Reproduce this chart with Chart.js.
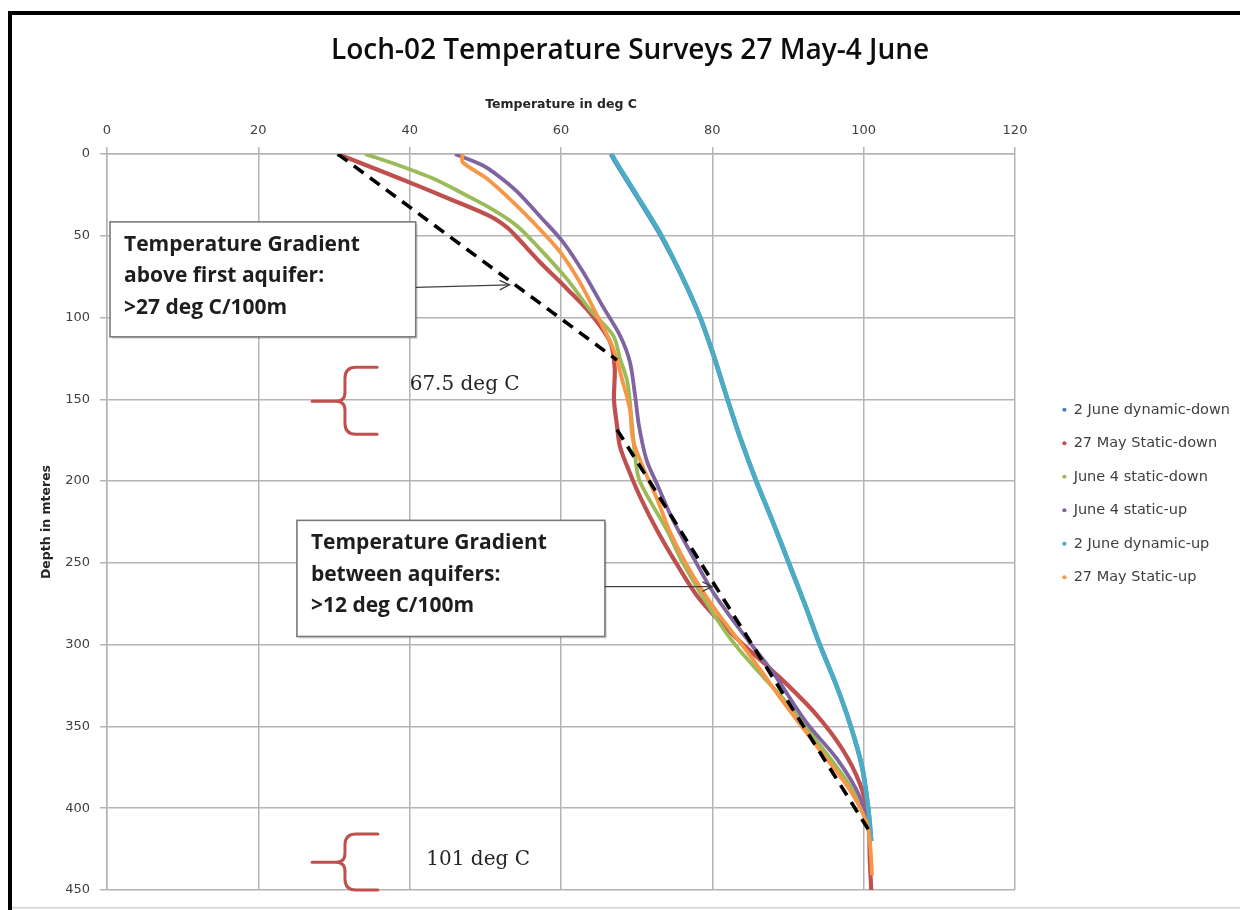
<!DOCTYPE html>
<html>
<head>
<meta charset="utf-8">
<script src="https://cdn.jsdelivr.net/npm/chart.js@4.4.1/dist/chart.umd.min.js"></script>
<style>
html,body{margin:0;padding:0;background:#fff;}
#wrap{position:relative;width:1240px;height:910px;}
</style>
</head>
<body>
<div id="wrap"><canvas id="c" width="1240" height="910"></canvas></div>
<script>
// ---------- text ----------
const chartTitle = 'Loch-02 Temperature Surveys 27 May-4 June';
const xAxisTitle = 'Temperature in deg C';
const yAxisTitle = 'Depth in mteres';
const seriesNames = ['2 June dynamic-down', '27 May Static-down', 'June 4 static-down', 'June 4 static-up', '2 June dynamic-up', '27 May Static-up'];

// ---------- axis ticks ----------
const xTicks = [0, 20, 40, 60, 80, 100, 120];
const yTicks = [0, 50, 100, 150, 200, 250, 300, 350, 400, 450];

// ---------- series (depth in m, temperature in deg C) ----------
const depthJun2DynDown = [0, 5, 25, 50, 75, 100, 125, 150, 175, 200, 225, 250, 275, 300, 325, 350, 375, 400, 420];
const tempJun2DynDown  = [66.6, 67.2, 69.9, 73.2, 76.0, 78.4, 80.3, 82.0, 83.8, 85.8, 88.0, 90.1, 92.2, 94.2, 96.4, 98.3, 99.8, 100.6, 101.0];

const depthMay27Down = [0, 15, 27.5, 38, 45, 52, 66, 82.5, 97, 115, 131, 150, 166, 179, 195, 211, 231, 250, 272, 297, 320, 342, 364, 385, 405, 430, 450];
const tempMay27Down  = [30.5, 38.7, 45.3, 50.6, 52.9, 54.4, 57.2, 60.8, 63.8, 66.5, 67.1, 67.0, 67.4, 67.8, 69.1, 70.6, 72.8, 75.2, 78.3, 83.4, 88.9, 93.6, 97.2, 99.5, 100.6, 100.8, 101.0];

const depthJun4Down = [0, 7, 15, 25.5, 34, 44, 58, 76.5, 95, 111, 125, 140, 166, 185, 200, 230, 250, 280, 300, 320, 338, 360, 385, 405];
const tempJun4Down  = [34.1, 38.6, 43.1, 47.6, 51.0, 54.2, 57.2, 60.8, 63.8, 66.9, 67.8, 68.8, 69.4, 69.8, 70.4, 74.0, 76.1, 80.0, 83.0, 86.8, 90.3, 94.0, 98.0, 100.3];

const depthJun4Up = [0, 7, 14, 23, 40, 54, 72, 93, 111, 127, 148, 166, 187, 203, 219, 230, 246, 268, 293, 317, 348, 370, 393, 410];
const tempJun4Up  = [46.0, 49.7, 51.9, 54.2, 57.6, 60.3, 62.9, 65.5, 67.8, 69.1, 69.8, 70.3, 71.3, 72.8, 74.3, 75.5, 77.4, 80.1, 84.0, 88.0, 92.5, 96.5, 99.5, 100.5];

const depthJun2DynUp = [0, 5, 25, 50, 75, 100, 125, 150, 175, 200, 225, 250, 275, 300, 325, 350, 375, 400, 420];
const tempJun2DynUp  = [66.7, 67.3, 70.0, 73.3, 76.0, 78.4, 80.3, 82.0, 83.8, 85.8, 88.0, 90.1, 92.2, 94.2, 96.4, 98.3, 99.8, 100.6, 101.0];

const depthMay27Up = [0, 5, 15, 29.6, 46, 60, 78.5, 99, 119, 140, 156, 174.5, 191, 211, 231, 256, 280, 300, 317, 332, 362, 389, 409, 425, 441];
const tempMay27Up  = [47.0, 47.0, 50.2, 53.7, 57.2, 59.9, 62.5, 64.8, 66.9, 68.2, 69.1, 69.5, 70.8, 72.7, 74.4, 77.2, 80.6, 83.9, 86.6, 88.9, 93.8, 98.2, 100.4, 100.9, 101.1];

// dashed gradient lines
const gradDepth1 = [0, 126];
const gradTemp1  = [30.5, 67.4];
const gradDepth2 = [168.5, 416.5];
const gradTemp2  = [67.4, 101.1];

// ---------- annotations (data coordinates) ----------
const noteBoxes = [
  {x0: 0.4, x1: 40.8, y0: 41.5, y1: 111.8, ax0: 40.8, ay0: 81.5, ax1: 53.2, ay1: 80.0,
   lines: ['Temperature Gradient', 'above first aquifer:', '>27 deg C/100m']},
  {x0: 25.1, x1: 65.8, y0: 224.0, y1: 295.0, ax0: 65.8, ay0: 264.5, ax1: 80.0, ay1: 264.5,
   lines: ['Temperature Gradient', 'between aquifers:', '>12 deg C/100m']}
];
const braces = [
  {xTip: 27.1, xSpine: 31.45, xEnd: 35.7, yTop: 130.4, yMid: 151.2, yBot: 171.4},
  {xTip: 27.1, xSpine: 31.45, xEnd: 35.8, yTop: 415.7, yMid: 433.0, yBot: 450.0}
];
const braceLabels = [
  {text: '67.5 deg C', x: 40.0, y: 141.4},
  {text: '101 deg C', x: 42.2, y: 431.5}
];

// ---------- build datasets ----------
const pts = (d, t) => d.map((v, i) => ({x: t[i], y: v}));
const colors = ['#4F81BD', '#C0504D', '#9BBB59', '#8064A2', '#4BACC6', '#F79646'];
const widths = [4.5, 4.2, 3.8, 3.8, 4.5, 3.8];
const seriesData = [
  pts(depthJun2DynDown, tempJun2DynDown),
  pts(depthMay27Down, tempMay27Down),
  pts(depthJun4Down, tempJun4Down),
  pts(depthJun4Up, tempJun4Up),
  pts(depthJun2DynUp, tempJun2DynUp),
  pts(depthMay27Up, tempMay27Up)
];
const datasets = seriesData.map((d, i) => ({
  label: seriesNames[i],
  data: d,
  showLine: true,
  borderColor: colors[i],
  backgroundColor: colors[i],
  borderWidth: widths[i],
  pointRadius: 0,
  pointHoverRadius: 0,
  pointStyle: 'circle',
  tension: 0.3,
  fill: false,
  order: 10 - i
}));
[[gradDepth1, gradTemp1], [gradDepth2, gradTemp2]].forEach(([d, t], k) => {
  datasets.push({
    label: 'gradient' + (k + 1),
    data: pts(d, t),
    showLine: true,
    borderColor: '#000000',
    backgroundColor: '#000000',
    borderWidth: 3.6,
    borderDash: [12, 8],
    pointRadius: 0,
    tension: 0,
    fill: false,
    order: 0
  });
});

// ---------- plugins ----------
const framePlugin = {
  id: 'frame',
  afterDraw(chart) {
    const ctx = chart.ctx;
    ctx.save();
    ctx.fillStyle = '#000';
    ctx.fillRect(8, 11, 1232, 4);
    ctx.fillRect(8, 11, 4, 899);
    ctx.fillStyle = '#d4d4d4';
    ctx.fillRect(12, 907, 1228, 1.5);
    ctx.restore();
  }
};

const annotPlugin = {
  id: 'annot',
  afterDatasetsDraw(chart) {
    const ctx = chart.ctx;
    const sx = chart.scales.x, sy = chart.scales.y;
    const px = v => sx.getPixelForValue(v), py = v => sy.getPixelForValue(v);
    ctx.save();
    noteBoxes.forEach(b => {
      const L = px(b.x0), R = px(b.x1), T = py(b.y0), B = py(b.y1);
      ctx.fillStyle = 'rgba(0,0,0,0.15)';
      ctx.fillRect(L + 2, T + 2, R - L, B - T);
      ctx.fillStyle = '#ffffff';
      ctx.fillRect(L, T, R - L, B - T);
      ctx.strokeStyle = '#7a7a7a';
      ctx.lineWidth = 1.6;
      ctx.strokeRect(L, T, R - L, B - T);
      ctx.fillStyle = '#1e1e1e';
      ctx.font = 'bold 21px "Open Sans"';
      ctx.textAlign = 'left';
      ctx.textBaseline = 'middle';
      b.lines.forEach((t, i) => ctx.fillText(t, L + 14, T + 23 + i * 31.5));
      const x0 = px(b.ax0), y0 = py(b.ay0), x1 = px(b.ax1), y1 = py(b.ay1);
      ctx.strokeStyle = '#404040';
      ctx.lineWidth = 1.3;
      ctx.beginPath(); ctx.moveTo(x0, y0); ctx.lineTo(x1, y1); ctx.stroke();
      const a = Math.atan2(y1 - y0, x1 - x0);
      ctx.beginPath();
      ctx.moveTo(x1 - 11 * Math.cos(a - 0.45), y1 - 11 * Math.sin(a - 0.45));
      ctx.lineTo(x1, y1);
      ctx.lineTo(x1 - 11 * Math.cos(a + 0.45), y1 - 11 * Math.sin(a + 0.45));
      ctx.stroke();
    });
    ctx.strokeStyle = '#C0504D';
    ctx.lineWidth = 3;
    ctx.lineCap = 'round';
    ctx.lineJoin = 'round';
    braces.forEach(b => {
      const xt = px(b.xTip), xs = px(b.xSpine), xe = px(b.xEnd);
      const yt = py(b.yTop), ym = py(b.yMid), yb = py(b.yBot);
      ctx.beginPath();
      ctx.moveTo(xe, yt);
      ctx.lineTo(xs + 11, yt);
      ctx.quadraticCurveTo(xs, yt, xs, yt + 11);
      ctx.lineTo(xs, ym - 9);
      ctx.quadraticCurveTo(xs, ym, xs - 9, ym);
      ctx.lineTo(xt, ym);
      ctx.moveTo(xs - 9, ym);
      ctx.quadraticCurveTo(xs, ym, xs, ym + 9);
      ctx.lineTo(xs, yb - 11);
      ctx.quadraticCurveTo(xs, yb, xs + 11, yb);
      ctx.lineTo(xe, yb);
      ctx.stroke();
    });
    ctx.fillStyle = '#262626';
    ctx.font = '20px "DejaVu Serif"';
    ctx.textAlign = 'left';
    ctx.textBaseline = 'middle';
    braceLabels.forEach(l => ctx.fillText(l.text, px(l.x), py(l.y)));
    ctx.restore();
  }
};

// ---------- chart ----------
const gridColor = '#b4b4b4';
const tickFont = {family: 'DejaVu Sans', size: 13};
const axisTitleFont = {family: 'DejaVu Sans', size: 12.5, weight: 'bold'};

new Chart(document.getElementById('c'), {
  type: 'scatter',
  data: {datasets},
  options: {
    responsive: false,
    animation: false,
    devicePixelRatio: 1,
    events: [],
    layout: {padding: {left: 20, right: 0, top: 0, bottom: 20}},
    scales: {
      x: {
        type: 'linear', position: 'top', min: 0, max: 120,
        afterBuildTicks(s) { s.ticks = xTicks.map(v => ({value: v})); },
        ticks: {color: '#404040', font: tickFont, padding: 9},
        grid: {color: gridColor, lineWidth: 1.5, tickLength: 7},
        border: {color: gridColor, width: 1.5},
        title: {display: true, text: xAxisTitle, color: '#262626', font: axisTitleFont, padding: {top: 21, bottom: 0}},
        afterFit(s) { s.height = 78; }
      },
      y: {
        type: 'linear', position: 'left', reverse: true, min: 0, max: 450,
        afterBuildTicks(s) { s.ticks = yTicks.map(v => ({value: v})); },
        ticks: {color: '#404040', font: tickFont, padding: 10},
        grid: {color: gridColor, lineWidth: 1.5, tickLength: 7},
        border: {color: gridColor, width: 1.5},
        title: {display: true, text: yAxisTitle, color: '#262626', font: axisTitleFont, padding: {top: 19, bottom: 0}},
        afterFit(s) { s.width = 87; }
      },
      pad: {
        type: 'linear', position: 'right', display: true,
        ticks: {display: false},
        grid: {display: false, drawTicks: false},
        border: {display: false},
        afterFit(s) {
          const lw = s.chart.legend ? s.chart.legend.width : 200;
          s.width = Math.max(0, 1240 - 1015 - lw);
        }
      }
    },
    plugins: {
      title: {
        display: true, text: chartTitle, color: '#0d0d0d',
        font: {family: 'Open Sans', size: 28, weight: '600', lineHeight: '32px'},
        padding: {top: 35, bottom: 9}
      },
      legend: {
        position: 'right', align: 'center',
        title: {display: true, text: '', font: {size: 10}, padding: {top: 85, bottom: 0}},
        labels: {
          usePointStyle: true, pointStyle: 'circle', boxWidth: 4, boxHeight: 3, padding: 19,
          color: '#404040', font: {family: 'DejaVu Sans', size: 14.5},
          generateLabels(chart) {
            return Chart.defaults.plugins.legend.labels.generateLabels(chart)
              .filter(it => it.datasetIndex < 6)
              .sort((a, b) => a.datasetIndex - b.datasetIndex)
              .map(it => Object.assign(it, {lineWidth: 0}));
          }
        }
      },
      tooltip: {enabled: false}
    }
  },
  plugins: [framePlugin, annotPlugin]
});
</script>
</body>
</html>
